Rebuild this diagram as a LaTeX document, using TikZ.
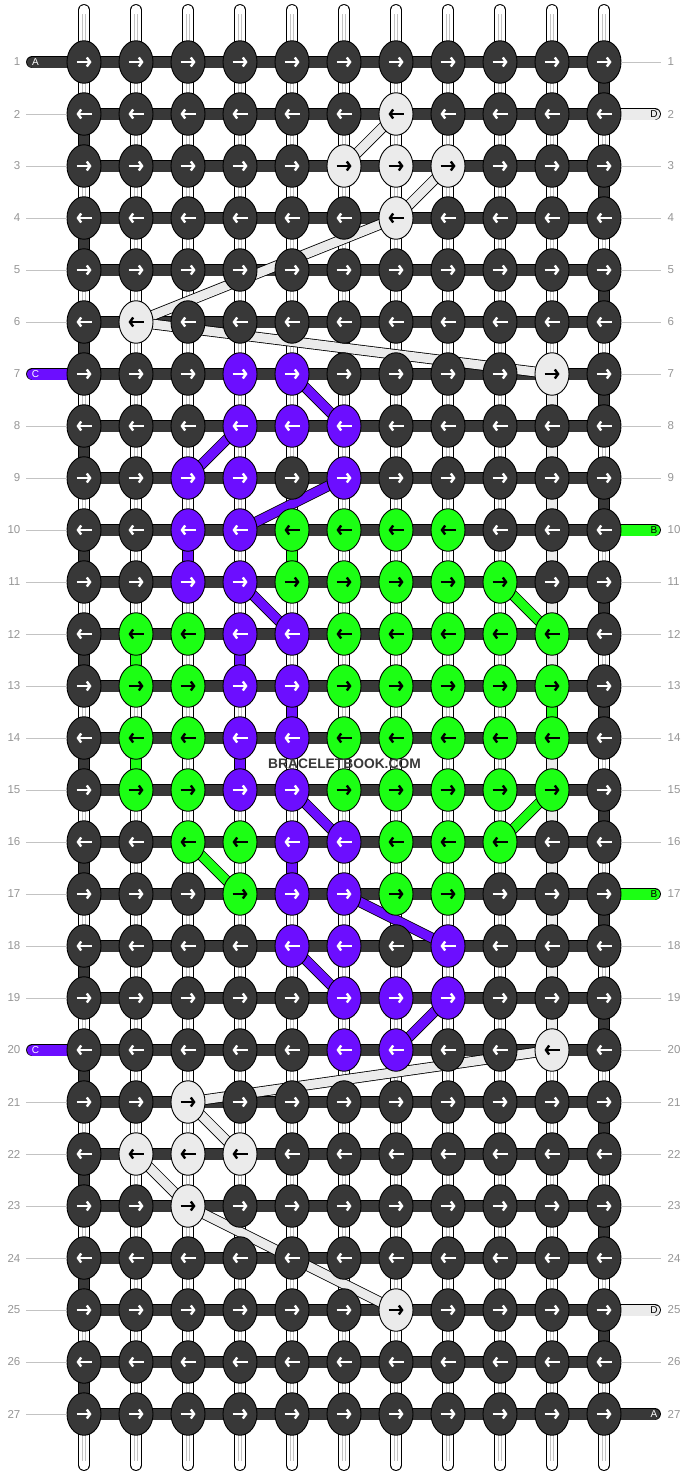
\documentclass[tikz,border=0pt]{standalone}
\usepackage{fontspec}
\setmainfont{Liberation Sans}
\usetikzlibrary{shapes.geometric,arrows.meta}
\definecolor{dk}{RGB}{56,56,56}
\definecolor{lt}{RGB}{235,235,235}
\definecolor{pu}{RGB}{108,14,255}
\definecolor{gr}{RGB}{28,255,20}
\definecolor{numgray}{RGB}{150,150,150}
\definecolor{linegray}{RGB}{195,195,195}
\definecolor{warpgray}{RGB}{195,195,195}
\pgfdeclarelayer{bg}
\pgfdeclarelayer{warp}
\pgfdeclarelayer{vert}
\pgfdeclarelayer{bars}
\pgfdeclarelayer{diag}
\pgfdeclarelayer{top}
\pgfsetlayers{bg,warp,vert,bars,diag,main,top}
\newcommand\setk[3]{\expandafter\gdef\csname kc-#1-#2\endcsname{#3}}
\expandafter\def\csname ac-dk\endcsname{white}
\expandafter\def\csname ac-pu\endcsname{white}
\expandafter\def\csname ac-lt\endcsname{black}
\expandafter\def\csname ac-gr\endcsname{black}
\begin{document}
\begin{tikzpicture}[x=1pt,y=-1pt,
  knot/.style={ellipse, draw=black, line width=0.9pt, minimum width=34pt, minimum height=42.5pt, inner sep=0pt},
  arr/.style={line width=2.4pt, -{Straight Barb[length=3.2pt,width=9pt]}},
  tube/.style={draw=black, line width=0.9pt, double distance=10pt},
  bartube/.style={draw=black, line width=0.9pt, double=dk, double distance=11pt},
  tabtube/.style={draw=black, line width=0.9pt, double distance=11pt, line cap=round},
  dtube/.style={draw=black, line width=0.8pt, double distance=9pt},
  num/.style={font=\fontsize{11.5}{12}\selectfont, text=numgray, inner sep=0pt},
  tablab/.style={font=\fontsize{10}{10}\selectfont, inner sep=0pt},
  numline/.style={draw=linegray, line width=1pt}
]
\useasboundingbox (0,0) rectangle (688,1476);
\begin{pgfonlayer}{bg}
\fill[white] (0,0) rectangle (688,1476);
\end{pgfonlayer}
% knot colours
\foreach \r/\c in {2/7,3/6,3/7,3/8,4/7,6/2,7/10,20/10,21/3,22/2,22/3,22/4,23/3,25/7}{\setk{\r}{\c}{lt}}
\foreach \r/\c in {7/4,7/5,8/4,8/5,8/6,9/3,9/4,9/6,10/3,10/4,11/3,11/4,12/4,12/5,13/4,13/5,14/4,14/5,15/4,15/5,16/5,16/6,17/5,17/6,18/5,18/6,18/8,19/6,19/7,19/8,20/6,20/7}{\setk{\r}{\c}{pu}}
\foreach \r/\c in {10/5,10/6,10/7,10/8,11/5,11/6,11/7,11/8,11/9,16/3,16/4,16/7,16/8,16/9,17/4,17/7,17/8}{\setk{\r}{\c}{gr}}
\foreach \r in {12,...,15}{\foreach \c in {2,3,6,7,8,9,10}{\setk{\r}{\c}{gr}}}
% knots
\foreach \r in {1,...,27}{
  \foreach \c in {1,...,11}{
    \pgfmathsetmacro\xx{84+52*(\c-1)}
    \pgfmathsetmacro\yy{62+52*(\r-1)}
    \ifcsname kc-\r-\c\endcsname \edef\kcol{\csname kc-\r-\c\endcsname}\else\def\kcol{dk}\fi
    \edef\acol{\csname ac-\kcol\endcsname}
    \node[knot, fill=\kcol] (k-\r-\c) at (\xx,\yy) {};
    \ifodd\r\relax
      \draw[arr, draw=\acol] ([xshift=-7.5pt]k-\r-\c.center) -- ([xshift=7.5pt]k-\r-\c.center);
    \else
      \draw[arr, draw=\acol] ([xshift=7.5pt]k-\r-\c.center) -- ([xshift=-7.5pt]k-\r-\c.center);
    \fi
  }
}
% warp strings
\begin{pgfonlayer}{warp}
\foreach \c in {1,...,11}{
  \pgfmathsetmacro\xx{84+52*(\c-1)}
  \coordinate (wt-\c) at (\xx,10);
  \coordinate (wb-\c) at (\xx,1465);
  \draw[tube, double=white, line cap=round] (wt-\c) -- (wb-\c);
  \draw[warpgray, line width=4.4pt] ([yshift=-4pt]wt-\c) -- ([yshift=4pt]wb-\c);
  \draw[white, line width=2.4pt] ([yshift=-4pt]wt-\c) -- ([yshift=4pt]wb-\c);
}
\end{pgfonlayer}
% vertical segments
\begin{pgfonlayer}{vert}
\foreach \r in {1,3,...,25}{\pgfmathtruncatemacro\rn{\r+1}\draw[tube,double=dk] (k-\r-11.center) -- (k-\rn-11.center);}
\foreach \r in {2,4,...,26}{\pgfmathtruncatemacro\rn{\r+1}\draw[tube,double=dk] (k-\r-1.center) -- (k-\rn-1.center);}
\draw[tube,double=lt] (k-7-10.center) -- (k-20-10.center);
\foreach \a/\b/\c in {10/11/5,12/13/2,13/14/10,14/15/2}{\draw[tube,double=gr] (k-\a-\c.center) -- (k-\b-\c.center);}
\foreach \a/\b/\c in {10/11/3,12/13/4,13/14/5,14/15/4,16/17/5}{\draw[tube,double=pu] (k-\a-\c.center) -- (k-\b-\c.center);}
\end{pgfonlayer}
% rows, tabs
\begin{pgfonlayer}{bars}
\foreach \r in {1,...,27}{\draw[bartube] (k-\r-1.center) -- (k-\r-11.center);}
\foreach \r/\col in {1/dk,7/pu,20/pu}{
  \pgfmathsetmacro\yy{62+52*(\r-1)}
  \coordinate (tl-\r) at (32.5,\yy);
  \draw[tabtube,double=\col] (tl-\r) -- (k-\r-1.center);
}
\foreach \r/\col in {2/lt,10/gr,17/gr,25/lt,27/dk}{
  \pgfmathsetmacro\yy{62+52*(\r-1)}
  \coordinate (tr-\r) at (654.5,\yy);
  \draw[tabtube,double=\col] (k-\r-11.center) -- (tr-\r);
}
\end{pgfonlayer}
% diagonal strings
\begin{pgfonlayer}{diag}
\foreach \a/\b/\c/\d in {7/5/8/6,8/4/9/3,9/6/10/4,11/4/12/5,15/5/16/6,17/6/18/8,18/5/19/6,19/8/20/7}{\draw[dtube,double=pu] (k-\a-\b.center) -- (k-\c-\d.center);}
\foreach \a/\b/\c/\d in {11/9/12/10,15/10/16/9,16/3/17/4}{\draw[dtube,double=gr] (k-\a-\b.center) -- (k-\c-\d.center);}
\foreach \a/\b/\c/\d in {2/7/3/6,3/8/4/7,4/7/6/2,6/2/7/10,20/10/21/3,21/3/22/4,22/2/23/3,23/3/25/7}{\draw[dtube,double=lt] (k-\a-\b.center) -- (k-\c-\d.center);}
\end{pgfonlayer}
% labels
\begin{pgfonlayer}{top}
\foreach \r in {1,...,27}{
  \pgfmathsetmacro\yy{62+52*(\r-1)}
  \node[num, anchor=east] (ln-\r) at (20.5,\yy) {\r};
  \node[num, anchor=west] (rn-\r) at (667.5,\yy) {\r};
}
\foreach \r in {2,3,4,5,6,8,9,10,11,12,13,14,15,16,17,18,19,21,22,23,24,25,26,27}{\draw[numline] ([xshift=5.5pt]ln-\r.east) -- (k-\r-1.west);}
\foreach \r in {1,3,4,5,6,7,8,9,11,12,13,14,15,16,18,19,20,21,22,23,24,26}{\draw[numline] (k-\r-11.east) -- ([xshift=-6.5pt]rn-\r.west);}
\foreach \r/\tc/\l in {1/white/A,7/white/C,20/white/C}{
  \pgfmathsetmacro\yy{62+52*(\r-1)}
  \node[tablab, text=\tc] (tll-\r) at (35.5,\yy) {\l};
}
\foreach \r/\tc/\l in {2/black/D,10/black/B,17/black/B,25/black/D,27/white/A}{
  \pgfmathsetmacro\yy{62+52*(\r-1)}
  \node[tablab, text=\tc] (trl-\r) at (654,\yy) {\l};
}
\node[font=\bfseries\fontsize{13.8}{14}\selectfont, text=dk, inner sep=0pt] (wm) at (344.5,764) {BRACELETBOOK.COM};
\end{pgfonlayer}
\end{tikzpicture}
\end{document}
